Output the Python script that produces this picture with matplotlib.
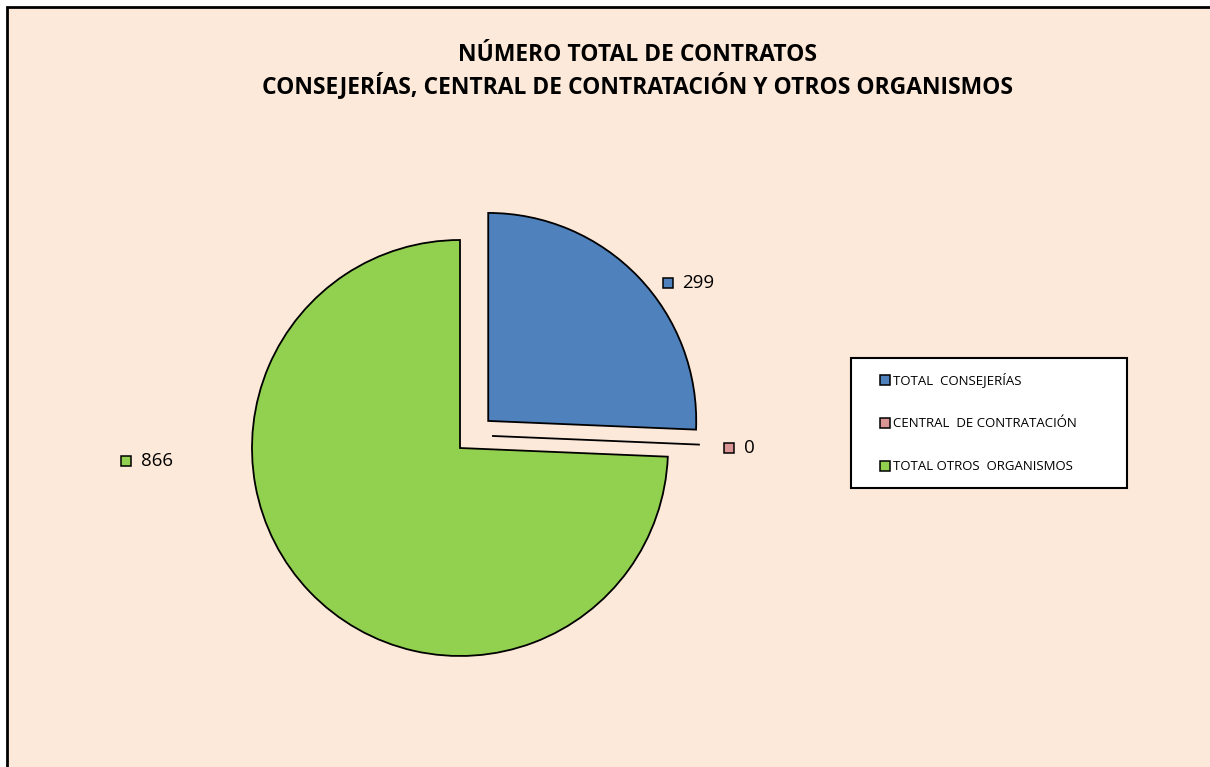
import matplotlib.pyplot as plt
from matplotlib.lines import Line2D
from matplotlib.patches import Rectangle
import numpy as np

plt.rcParams['font.family'] = ['Open Sans', 'Noto Sans', 'DejaVu Sans']

# datos
categorias = ["TOTAL  CONSEJERÍAS", "CENTRAL  DE CONTRATACIÓN", "TOTAL OTROS  ORGANISMOS"]
contratos = [299, 0, 866]
colores = ["#4F81BD", "#D99694", "#92D050"]
titulo = "NÚMERO TOTAL DE CONTRATOS\nCONSEJERÍAS, CENTRAL DE CONTRATACIÓN Y OTROS ORGANISMOS"

W, H = 1210, 767
fig = plt.figure(figsize=(W / 100, H / 100), dpi=100, facecolor="white")

# fondo del grafico (borde visible solo arriba e izquierda)
fig.patches.append(Rectangle((7 / W, -0.05), 1.1, 1 - 7 / H + 0.05,
                             transform=fig.transFigure, facecolor="#FDE9D9",
                             edgecolor="black", linewidth=2, zorder=-5))

fig.text(638 / W, 1 - 71 / H, titulo, ha="center", va="center",
         fontsize=16.5, fontweight="bold", linespacing=1.22)

# ejes de la tarta: centro en (460, 448) px, radio 208 px
L = 1.5
side = 2 * L * 208
ax = fig.add_axes([(460 - side / 2) / W, (H - 448 - side / 2) / H, side / W, side / H])

wedges, _ = ax.pie(contratos, colors=colores, startangle=90, counterclock=False,
                   explode=[0.188, 0.16, 0],
                   wedgeprops=dict(edgecolor="black", linewidth=1.3))
ax.set_xlim(-L, L)
ax.set_ylim(-L, L)
ax.set_aspect("equal")
ax.axis("off")
# el sector vacio queda algo desplazado hacia arriba
wedges[1].set_center((0.154, 0.058))

# etiquetas de datos con su clave
pos_etiquetas = [(1.0, 0.793), (1.293, 0.0), (-1.606, -0.0625)]
for (x, y), v, c in zip(pos_etiquetas, contratos, colores):
    ax.plot(x, y, marker="s", markersize=7, markerfacecolor=c,
            markeredgecolor="black", markeredgewidth=1.1, linestyle="none",
            clip_on=False)
    ax.text(x + 0.07, y, str(v), ha="left", va="center", fontsize=13.5)

handles = [Line2D([], [], marker="s", markersize=7, markerfacecolor=c,
                  markeredgecolor="black", markeredgewidth=1.1, linestyle="none")
           for c in colores]
leg = fig.legend(handles, categorias, loc="upper left",
                 bbox_to_anchor=(851 / W, 1 - 490 / H, 276 / W, 132 / H),
                 mode="expand", fontsize=9.5, frameon=True, fancybox=False,
                 framealpha=1, facecolor="white", edgecolor="black",
                 borderaxespad=0, borderpad=1.08, handlelength=3,
                 handletextpad=-0.9, labelspacing=2.28)
leg.get_frame().set_linewidth(1.5)

fig.savefig("out.png", dpi=100, facecolor="white")
